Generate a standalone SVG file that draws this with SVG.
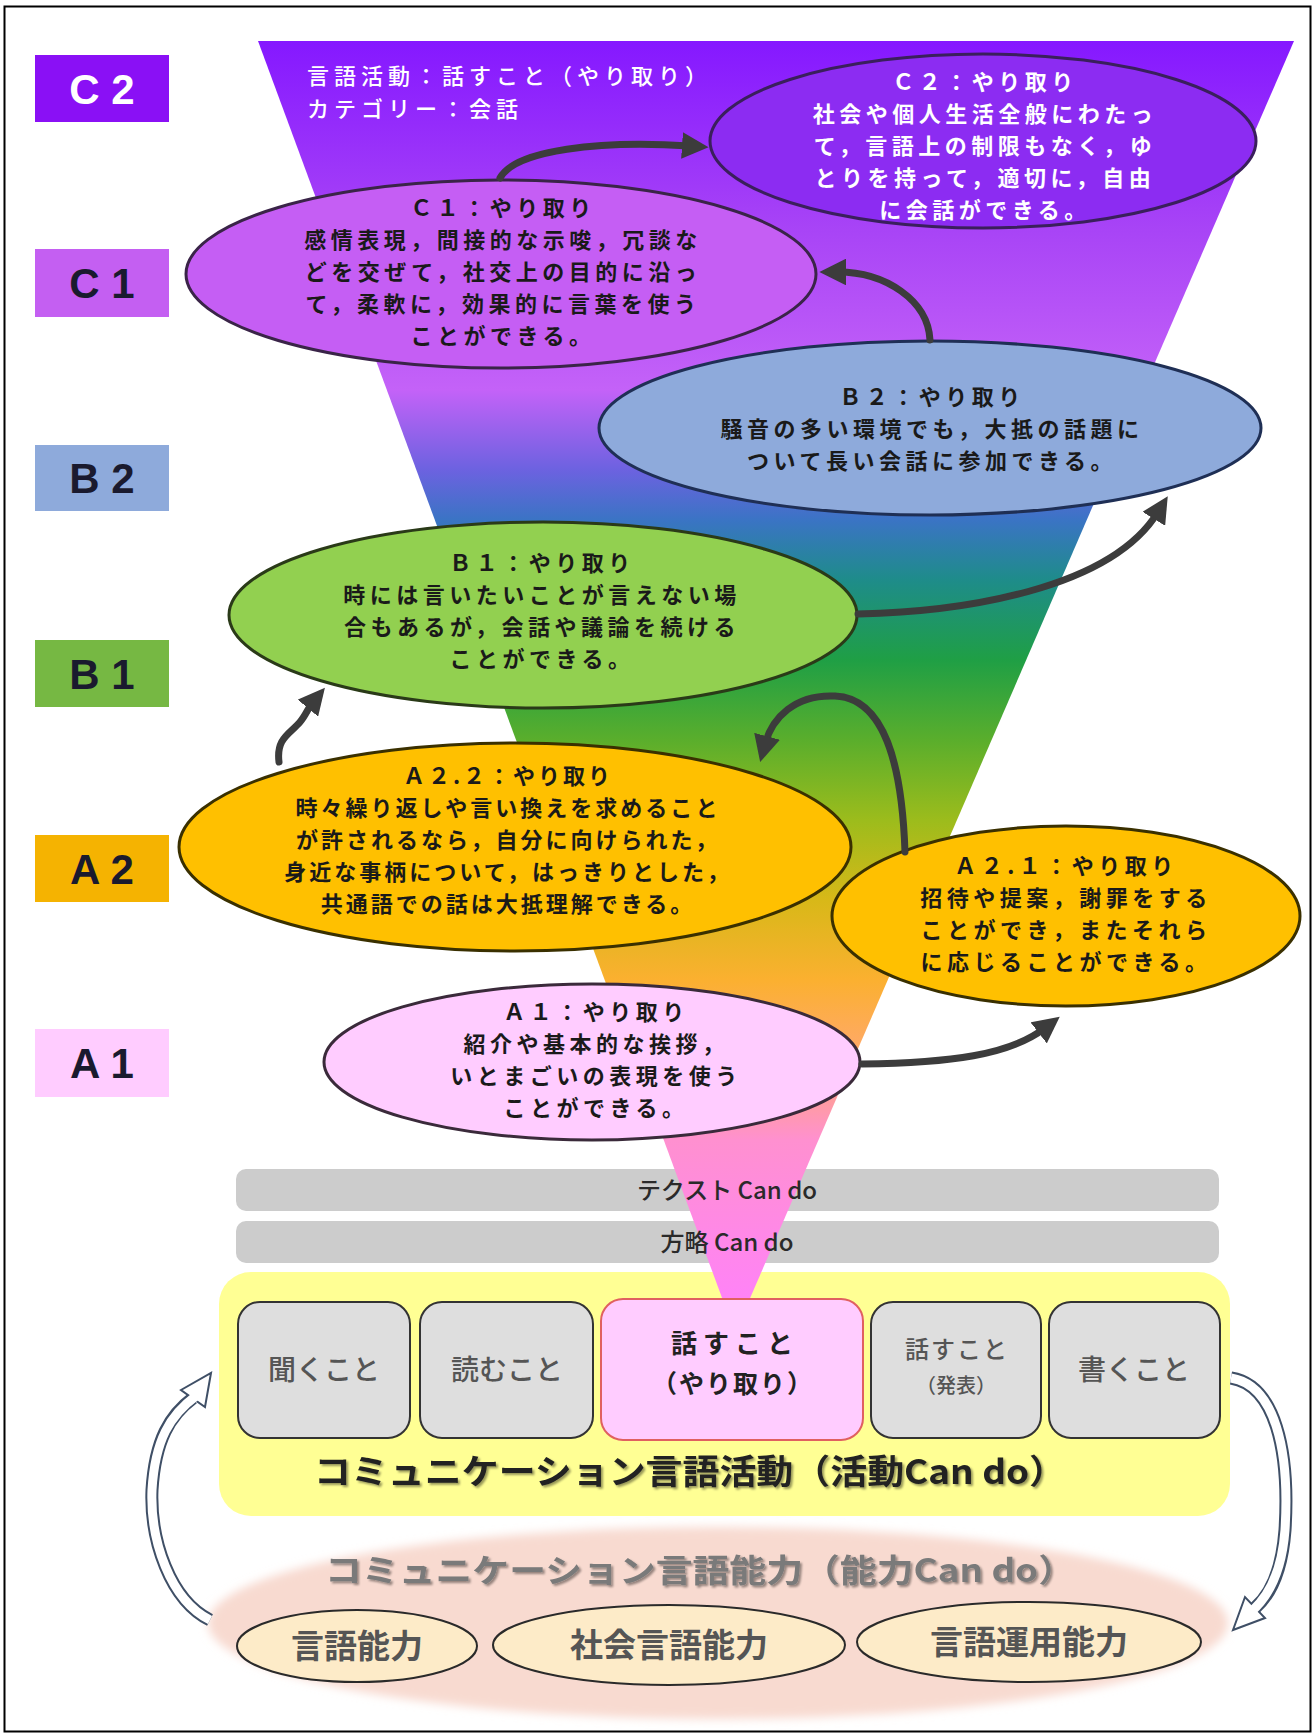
<svg xmlns="http://www.w3.org/2000/svg" width="1316" height="1736" viewBox="0 0 1316 1736">
<defs>
<linearGradient id="funnel" gradientUnits="userSpaceOnUse" x1="0" y1="41" x2="0" y2="1333">
<stop offset="0" stop-color="#8518ff"/>
<stop offset="0.146" stop-color="#a844f6"/>
<stop offset="0.27" stop-color="#c462f8"/>
<stop offset="0.332" stop-color="#6c62e0"/>
<stop offset="0.371" stop-color="#3a74c4"/>
<stop offset="0.417" stop-color="#1e8c8a"/>
<stop offset="0.479" stop-color="#1f9f45"/>
<stop offset="0.541" stop-color="#5aae2c"/>
<stop offset="0.603" stop-color="#9cbc1c"/>
<stop offset="0.665" stop-color="#d8b818"/>
<stop offset="0.727" stop-color="#fbb030"/>
<stop offset="0.789" stop-color="#ffa870"/>
<stop offset="0.851" stop-color="#ff90d0"/>
<stop offset="1" stop-color="#ff80ff"/>
</linearGradient>
<marker id="ah" viewBox="0 0 10 10" refX="3" refY="5" markerWidth="3.8" markerHeight="3.8" orient="auto" markerUnits="strokeWidth">
<path d="M0,0 L10,5 L0,10 z" fill="#3c3c3c"/>
</marker>
<filter id="sh" x="-5%" y="-30%" width="110%" height="160%">
<feDropShadow dx="2" dy="2" stdDeviation="1" flood-color="#000" flood-opacity="0.4"/>
</filter>
<filter id="soft" x="-5%" y="-10%" width="110%" height="120%">
<feGaussianBlur stdDeviation="5"/>
</filter>
<style>
.lvl{font-family:"Liberation Sans",Arial,sans-serif;font-size:42px;font-weight:bold;text-anchor:middle;fill:#1a1a2e}
.jp{font-family:"Noto Sans CJK JP","Noto Sans CJK SC",sans-serif;font-weight:bold;font-size:22px;letter-spacing:4.5px;text-anchor:middle;fill:#1a1a1a}
.ell{stroke-width:3}
.conn{fill:none;stroke:#3c3c3c;stroke-width:7;stroke-linecap:round;marker-end:url(#ah)}
.bar{fill:#cccccc}
.bartxt{font-family:"Noto Sans CJK JP","Noto Sans CJK SC",sans-serif;font-size:24px;font-weight:500;text-anchor:middle;fill:#2a2a2a}
.box{fill:#dedede;stroke:#333;stroke-width:2}
.boxtxt{font-family:"Noto Sans CJK JP","Noto Sans CJK SC",sans-serif;font-size:28px;font-weight:500;text-anchor:middle;fill:#555}
.small{fill:#fdebc8;stroke:#2a2a2a;stroke-width:2}
.smtxt{font-family:"Noto Sans CJK JP","Noto Sans CJK SC",sans-serif;font-size:33px;font-weight:bold;text-anchor:middle;fill:#555}
.hol-out{fill:none;stroke:#3f4f66;stroke-width:13;stroke-linecap:butt}
.hol-in{fill:none;stroke:#ffffff;stroke-width:9;stroke-linecap:butt}
.hol-head{fill:#ffffff;stroke:#3f4f66;stroke-width:2;stroke-linejoin:miter}
</style>
</defs>

<rect x="0" y="0" width="1316" height="1736" fill="#ffffff"/>
<rect x="4.5" y="6.5" width="1306" height="1725" fill="none" stroke="#000" stroke-width="2"/>

<!-- level labels -->
<g id="level-C2"><rect x="35" y="55" width="134" height="67" fill="#8a10f5"/><text class="lvl" x="102" y="104" style="fill:#ffffff">C 2</text></g>
<g id="level-C1"><rect x="35" y="249" width="134" height="68" fill="#c45ff2"/><text class="lvl" x="102" y="298">C 1</text></g>
<g id="level-B2"><rect x="35" y="445" width="134" height="66" fill="#8eaadb"/><text class="lvl" x="102" y="493">B 2</text></g>
<g id="level-B1"><rect x="35" y="640" width="134" height="67" fill="#76b843"/><text class="lvl" x="102" y="689">B 1</text></g>
<g id="level-A2"><rect x="35" y="835" width="134" height="67" fill="#f5b301"/><text class="lvl" x="102" y="884">A 2</text></g>
<g id="level-A1"><rect x="35" y="1029" width="134" height="68" fill="#ffccff"/><text class="lvl" x="102" y="1078">A 1</text></g>

<!-- gray bars -->
<g id="bar-text-cando"><rect class="bar" x="236" y="1169" width="983" height="42" rx="10"/></g>
<g id="bar-strategy-cando"><rect class="bar" x="236" y="1221" width="983" height="42" rx="10"/></g>

<!-- yellow panel -->
<g id="activity-panel"><rect x="219" y="1272" width="1011" height="244" rx="32" fill="#ffff94"/></g>

<!-- funnel -->
<g id="funnel-shape"><polygon points="258,41 1294,41 735,1333" fill="url(#funnel)"/></g>

<text class="bartxt" x="727" y="1199">テクスト Can do</text>
<text class="bartxt" x="727" y="1251">方略 Can do</text>

<g id="heading">
<text class="jp" x="307" y="84" style="text-anchor:start;fill:#ffffff;font-weight:500;letter-spacing:5px">言語活動：話すこと（やり取り）</text>
<text class="jp" x="307" y="117" style="text-anchor:start;fill:#ffffff;font-weight:500;letter-spacing:5px">カテゴリー：会話</text>
</g>

<!-- ellipses -->
<g id="node-C2">
<ellipse class="ell" cx="983" cy="141" rx="273" ry="87" fill="#8c2cf2" stroke="#3a1f5c"/>
<text class="jp" style="fill:#ffffff"><tspan x="985" y="90">Ｃ２：やり取り</tspan><tspan x="985" y="122">社会や個人生活全般にわたっ</tspan><tspan x="985" y="154">て，言語上の制限もなく，ゆ</tspan><tspan x="985" y="186">とりを持って，適切に，自由</tspan><tspan x="985" y="218">に会話ができる。</tspan></text>
</g>
<g id="node-C1">
<ellipse class="ell" cx="501" cy="274" rx="315" ry="94" fill="#c55ef4" stroke="#3a2448"/>
<text class="jp"><tspan x="503" y="216">Ｃ１：やり取り</tspan><tspan x="503" y="248">感情表現，間接的な示唆，冗談な</tspan><tspan x="503" y="280">どを交ぜて，社交上の目的に沿っ</tspan><tspan x="503" y="312">て，柔軟に，効果的に言葉を使う</tspan><tspan x="503" y="344">ことができる。</tspan></text>
</g>
<g id="node-B2">
<ellipse class="ell" cx="930" cy="428" rx="331" ry="87" fill="#8eaadb" stroke="#1f2f55"/>
<text class="jp"><tspan x="932" y="405">Ｂ２：やり取り</tspan><tspan x="932" y="437">騒音の多い環境でも，大抵の話題に</tspan><tspan x="932" y="469">ついて長い会話に参加できる。</tspan></text>
</g>
<g id="node-B1">
<ellipse class="ell" cx="543" cy="615" rx="314" ry="93" fill="#92d050" stroke="#2a3a18"/>
<text class="jp"><tspan x="542" y="571">Ｂ１：やり取り</tspan><tspan x="542" y="603">時には言いたいことが言えない場</tspan><tspan x="542" y="635">合もあるが，会話や議論を続ける</tspan><tspan x="542" y="667">ことができる。</tspan></text>
</g>
<g id="node-A22">
<ellipse class="ell" cx="515" cy="847" rx="336" ry="104" fill="#ffc000" stroke="#3a3000"/>
<text class="jp" style="letter-spacing:3px"><tspan x="508" y="784">Ａ２.２：やり取り</tspan><tspan x="508" y="816">時々繰り返しや言い換えを求めること</tspan><tspan x="508" y="848">が許されるなら，自分に向けられた，</tspan><tspan x="508" y="880">身近な事柄について，はっきりとした，</tspan><tspan x="508" y="912">共通語での話は大抵理解できる。</tspan></text>
</g>
<g id="node-A21">
<ellipse class="ell" cx="1066" cy="916" rx="234" ry="90" fill="#ffc000" stroke="#3a3000"/>
<text class="jp"><tspan x="1066" y="874">Ａ２.１：やり取り</tspan><tspan x="1066" y="906">招待や提案，謝罪をする</tspan><tspan x="1066" y="938">ことができ，またそれら</tspan><tspan x="1066" y="970">に応じることができる。</tspan></text>
</g>
<g id="node-A1">
<ellipse class="ell" cx="592" cy="1062" rx="268" ry="78" fill="#ffccff" stroke="#3a2a3a"/>
<text class="jp"><tspan x="596" y="1020">Ａ１：やり取り</tspan><tspan x="596" y="1052">紹介や基本的な挨拶，</tspan><tspan x="596" y="1084">いとまごいの表現を使う</tspan><tspan x="596" y="1116">ことができる。</tspan></text>
</g>

<!-- connectors -->
<g id="connectors">
<path class="conn" d="M 500 178 C 515 150, 600 140, 690 146"/>
<path class="conn" d="M 930 340 C 928 300, 885 272, 838 272"/>
<path class="conn" d="M 858 614 C 960 612, 1110 590, 1158 512"/>
<path class="conn" d="M 279 762 C 276 738, 290 734, 300 722 C 306 715, 308 708, 313 702"/>
<path class="conn" d="M 905 852 C 902 765, 885 698, 835 696 C 795 694, 772 718, 765 744"/>
<path class="conn" d="M 862 1064 C 950 1063, 1010 1055, 1045 1028"/>
</g>

<!-- activity boxes -->
<g id="box-listening"><rect class="box" x="238" y="1302" width="172" height="136" rx="22"/><text class="boxtxt" x="324" y="1380">聞くこと</text></g>
<g id="box-reading"><rect class="box" x="420" y="1302" width="173" height="136" rx="22"/><text class="boxtxt" x="507" y="1380">読むこと</text></g>
<g id="box-interaction"><rect x="601" y="1299" width="262" height="141" rx="22" fill="#ffccff" stroke="#e06060" stroke-width="2"/>
<text class="jp" style="font-size:26px;fill:#222;letter-spacing:6px" x="735" y="1353">話すこと</text>
<text class="jp" style="font-size:25px;fill:#222;letter-spacing:2px" x="733" y="1393">（やり取り）</text></g>
<g id="box-production"><rect class="box" x="871" y="1302" width="170" height="136" rx="22"/>
<text class="boxtxt" style="font-size:24px;letter-spacing:2px" x="957" y="1358">話すこと</text>
<text class="boxtxt" style="font-size:20px" x="956" y="1393">（発表）</text></g>
<g id="box-writing"><rect class="box" x="1049" y="1302" width="171" height="136" rx="22"/><text class="boxtxt" x="1134" y="1380">書くこと</text></g>

<text class="jp" x="690" y="1484" style="font-size:34px;fill:#222;letter-spacing:0" textLength="752" lengthAdjust="spacingAndGlyphs" filter="url(#sh)">コミュニケーション言語活動（活動Can do）</text>

<!-- competence -->
<g id="competence">
<ellipse cx="718" cy="1623" rx="510" ry="96" fill="#f8dad0" filter="url(#soft)"/>
<text class="jp" x="700" y="1582" style="font-size:32px;fill:#7a7a7a;letter-spacing:0" textLength="750" lengthAdjust="spacingAndGlyphs" filter="url(#sh)">コミュニケーション言語能力（能力Can do）</text>
</g>
<g id="comp-linguistic"><ellipse class="small" cx="357" cy="1646" rx="120" ry="36"/><text class="smtxt" x="357" y="1658">言語能力</text></g>
<g id="comp-sociolinguistic"><ellipse class="small" cx="669" cy="1645" rx="176" ry="40"/><text class="smtxt" x="669" y="1657">社会言語能力</text></g>
<g id="comp-pragmatic"><ellipse class="small" cx="1029" cy="1642" rx="172" ry="40"/><text class="smtxt" x="1029" y="1654">言語運用能力</text></g>

<!-- side hollow arrows -->
<g id="arrow-left">
<path class="hol-out" d="M 210 1620 C 170 1600, 150 1540, 152 1490 C 155 1440, 170 1415, 193 1398"/>
<polygon class="hol-head" points="211,1373 205,1407 181,1390"/>
<path class="hol-in" d="M 210 1620 C 170 1600, 150 1540, 152 1490 C 155 1440, 170 1415, 196 1396"/>
</g>
<g id="arrow-right">
<path class="hol-out" d="M 1231 1378 C 1275 1385, 1290 1450, 1285 1530 C 1282 1570, 1270 1595, 1255 1608"/>
<polygon class="hol-head" points="1233,1630 1265,1618 1245,1597"/>
<path class="hol-in" d="M 1231 1378 C 1275 1385, 1290 1450, 1285 1530 C 1282 1570, 1270 1595, 1252 1611"/>
</g>
</svg>
